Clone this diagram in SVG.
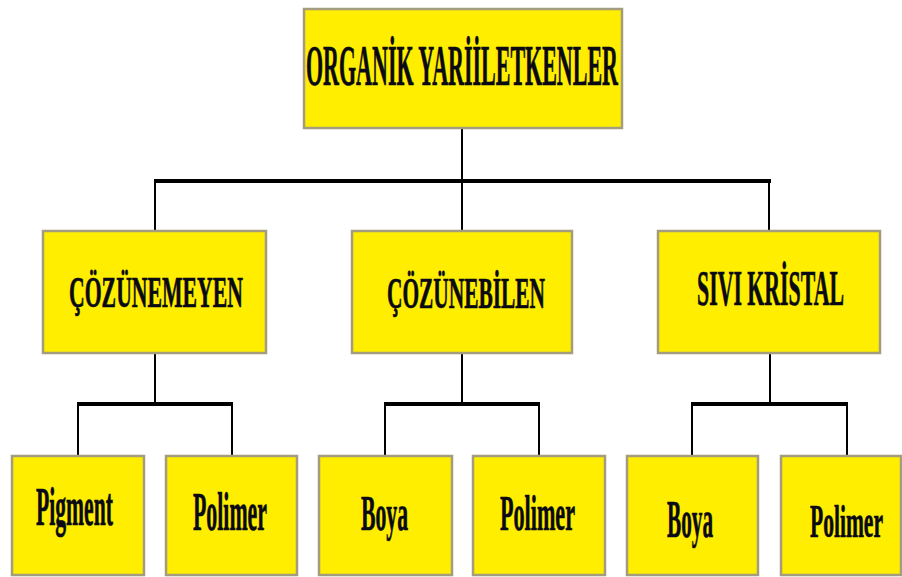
<svg xmlns="http://www.w3.org/2000/svg" width="902" height="577" viewBox="0 0 902 577">
<style>
.box{fill:#FFEE00;stroke:#A39C7E;stroke-width:2.5}
.t{font-family:"Liberation Serif","Times New Roman",serif;font-weight:bold;fill:#0a0a14;stroke:#0a0a14;stroke-width:0.7}
.h{stroke:#000;stroke-width:4;fill:none}
.v{stroke:#000;stroke-width:2;fill:none}
</style>
<rect width="902" height="577" fill="#fff"/>
<g id="connectors">
<line class="v" x1="462" y1="128" x2="462" y2="181"/>
<line class="h" x1="154" y1="181" x2="771" y2="181"/>
<line class="v" x1="155" y1="181" x2="155" y2="231"/>
<line class="v" x1="462" y1="181" x2="462" y2="231"/>
<line class="v" x1="769" y1="181" x2="769" y2="231"/>
<line class="v" x1="155" y1="353" x2="155" y2="404"/>
<line class="h" x1="77" y1="404" x2="233" y2="404"/>
<line class="v" x1="78" y1="404" x2="78" y2="456"/>
<line class="v" x1="232" y1="404" x2="232" y2="456"/>
<line class="v" x1="462" y1="353" x2="462" y2="404"/>
<line class="h" x1="384" y1="404" x2="540" y2="404"/>
<line class="v" x1="385" y1="404" x2="385" y2="456"/>
<line class="v" x1="539" y1="404" x2="539" y2="456"/>
<line class="v" x1="770" y1="353" x2="770" y2="404"/>
<line class="h" x1="691" y1="404" x2="848" y2="404"/>
<line class="v" x1="692" y1="404" x2="692" y2="456"/>
<line class="v" x1="847" y1="404" x2="847" y2="456"/>
</g>
<g id="n-root">
<rect class="box" x="304" y="9" width="318" height="119"/>
<text class="t" x="306" y="85" font-size="56" textLength="312" lengthAdjust="spacingAndGlyphs">ORGANİK YARİİLETKENLER</text>
</g>
<g id="n-cozunemeyen">
<rect class="box" x="43" y="231" width="223" height="122"/>
<text class="t" x="69" y="307" font-size="44" textLength="174" lengthAdjust="spacingAndGlyphs">ÇÖZÜNEMEYEN</text>
</g>
<g id="n-cozunebilen">
<rect class="box" x="352" y="231" width="220" height="122"/>
<text class="t" x="387" y="308" font-size="44" textLength="158" lengthAdjust="spacingAndGlyphs">ÇÖZÜNEBİLEN</text>
</g>
<g id="n-sivi">
<rect class="box" x="658" y="231" width="222" height="122"/>
<text class="t" x="697" y="305" font-size="51" textLength="147" lengthAdjust="spacingAndGlyphs">SIVI KRİSTAL</text>
</g>
<g id="n-pigment">
<rect class="box" x="12" y="456" width="132" height="119"/>
<text class="t" x="36" y="525" font-size="55" textLength="77" lengthAdjust="spacingAndGlyphs">Pigment</text>
</g>
<g id="n-polimer1">
<rect class="box" x="166" y="456" width="131" height="119"/>
<text class="t" x="193" y="530" font-size="55" textLength="74" lengthAdjust="spacingAndGlyphs">Polimer</text>
</g>
<g id="n-boya1">
<rect class="box" x="319" y="456" width="133" height="119"/>
<text class="t" x="361" y="530" font-size="50" textLength="47" lengthAdjust="spacingAndGlyphs">Boya</text>
</g>
<g id="n-polimer2">
<rect class="box" x="473" y="456" width="132" height="119"/>
<text class="t" x="500" y="530" font-size="50" textLength="75" lengthAdjust="spacingAndGlyphs">Polimer</text>
</g>
<g id="n-boya2">
<rect class="box" x="627" y="456" width="131" height="119"/>
<text class="t" x="667" y="537" font-size="53" textLength="46" lengthAdjust="spacingAndGlyphs">Boya</text>
</g>
<g id="n-polimer3">
<rect class="box" x="781" y="456" width="120" height="119"/>
<text class="t" x="810" y="537" font-size="46" textLength="73" lengthAdjust="spacingAndGlyphs">Polimer</text>
</g>
</svg>
